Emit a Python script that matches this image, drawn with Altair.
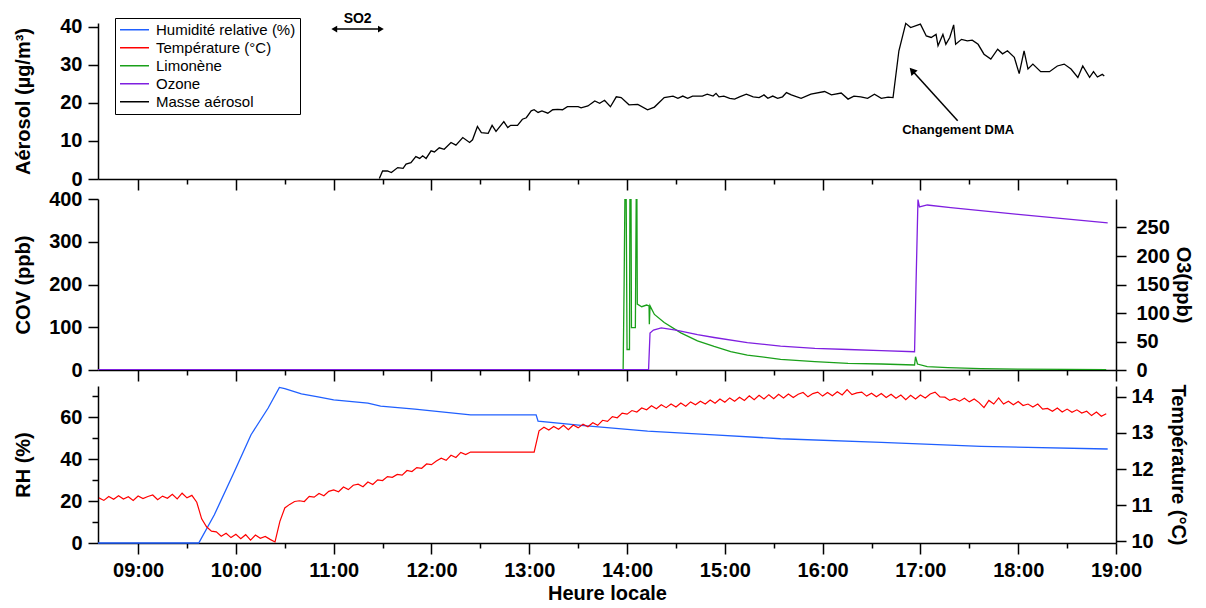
import altair as alt
import pandas as pd

FONT = "Liberation Sans"

# ---------------- data ----------------
series_names = ["Humidité relative (%)", "Température (°C)", "Limonène", "Ozone", "Masse aérosol"]
series_colors = ["#2060FF", "#FF0000", "#1AA01A", "#7F1FE0", "#000000"]

hour_ticks = [9, 9.5, 10, 10.5, 11, 11.5, 12, 12.5, 13, 13.5, 14, 14.5, 15, 15.5,
              16, 16.5, 17, 17.5, 18, 18.5, 19]
x_domain = [8.59, 19.0]

aer_time = [11.467, 11.50, 11.55, 11.59, 11.655, 11.71, 11.74, 11.79, 11.84, 11.88, 11.91, 11.945,
            11.996, 12.03, 12.08, 12.13, 12.20, 12.25, 12.32, 12.39, 12.42, 12.47, 12.51, 12.58,
            12.62, 12.66, 12.74, 12.78, 12.81, 12.88, 12.93, 12.97, 13.02, 13.05, 13.09, 13.13,
            13.19, 13.24, 13.29, 13.34, 13.39, 13.50, 13.53, 13.60, 13.67, 13.72, 13.77, 13.83,
            13.89, 13.94, 14.02, 14.11, 14.21, 14.28, 14.38, 14.47, 14.52, 14.57, 14.62, 14.67,
            14.77, 14.82, 14.88, 14.91, 14.94, 14.99, 15.05, 15.10, 15.15, 15.22, 15.29, 15.35,
            15.40, 15.44, 15.49, 15.54, 15.59, 15.63, 15.68, 15.78, 15.88, 16.02, 16.09, 16.19,
            16.26, 16.32, 16.39, 16.46, 16.53, 16.60, 16.67, 16.72, 16.78, 16.85, 16.90, 17.00,
            17.06, 17.11, 17.16, 17.18, 17.23, 17.26, 17.30, 17.34, 17.36, 17.42, 17.48, 17.53,
            17.59, 17.65, 17.72, 17.79, 17.84, 17.89, 17.96, 18.01, 18.06, 18.10, 18.15, 18.23,
            18.32, 18.40, 18.47, 18.54, 18.61, 18.66, 18.73, 18.77, 18.81, 18.86, 18.88]
aer_value = [0.1, 2.1, 2.1, 1.7, 3.0, 2.8, 3.9, 4.3, 5.9, 5.4, 6.1, 5.4,
             7.4, 7.1, 8.2, 7.8, 9.6, 8.9, 10.9, 9.6, 10.3, 13.8, 12.2, 12.0,
             14.1, 12.5, 15.1, 13.5, 14.1, 14.1, 15.7, 16.1, 17.9, 18.2, 17.5, 17.9,
             17.3, 18.2, 18.3, 18.2, 19.0, 19.0, 18.7, 19.2, 20.5, 19.9, 20.7, 19.0,
             21.6, 21.4, 19.5, 19.6, 18.2, 18.9, 21.4, 21.8, 21.2, 21.8, 21.2, 21.8,
             21.8, 22.3, 21.8, 22.5, 21.6, 21.8, 21.2, 21.0, 21.6, 22.3, 21.6, 21.4,
             22.1, 21.2, 21.8, 21.2, 21.6, 22.7, 22.1, 21.2, 22.3, 23.0, 22.1, 22.6,
             21.0, 21.8, 21.6, 21.2, 22.3, 21.2, 21.5, 21.4, 33.7, 40.9, 39.8, 40.7,
             37.6, 37.2, 38.0, 35.0, 38.0, 35.4, 37.2, 40.5, 35.4, 36.7, 36.3, 36.5,
             35.4, 32.8, 31.5, 34.1, 32.9, 33.7, 32.0, 27.7, 33.7, 28.9, 30.2, 28.2,
             28.2, 29.7, 30.2, 28.9, 26.7, 29.7, 26.7, 28.2, 26.8, 27.5, 27.1]

lim_time = [8.59, 13.96, 13.97, 13.98, 13.99, 14.00, 14.025, 14.03, 14.04, 14.045, 14.085, 14.095,
            14.10, 14.105, 14.15, 14.20, 14.225, 14.228, 14.235, 14.28, 14.38, 14.55, 14.72, 14.89,
            15.06, 15.23, 15.57, 15.92, 16.26, 16.60, 16.94, 16.95, 16.97, 17.07, 17.28, 17.62,
            18.0, 18.5, 18.9]
lim_value = [0.5, 0.5, 200, 450, 450, 48, 48, 450, 450, 99, 99, 450,
             450, 154, 148, 152, 150, 107, 150, 130, 111, 87, 68, 55,
             43, 35, 25, 19.5, 15.6, 14, 11.7, 31, 14, 7.8, 5.5, 3,
             2, 1.5, 1]

oz_time = [8.59, 14.22, 14.235, 14.27, 14.35, 14.50, 14.72, 14.89, 15.23, 15.57, 15.92, 16.26,
           16.60, 16.94, 16.955, 16.975, 16.99, 17.07, 17.31, 18.0, 18.915]
oz_value = [0.5, 0.5, 65, 70, 74, 70, 62, 57, 48, 42, 38, 36,
            34, 32, 150, 299, 286, 289.5, 285, 273, 258]

rh_time = [8.59, 9.62, 9.78, 9.985, 10.155, 10.33, 10.445, 10.50, 10.67, 10.84, 11.0, 11.35,
           11.48, 11.83, 12.40, 13.07, 13.09, 13.53, 14.21, 14.89, 15.57, 16.60, 17.62, 18.915]
rh_value = [0, 0, 13.5, 34.2, 51.7, 64.5, 74.3, 73.7, 71.2, 69.8, 68.4, 66.8,
            65.4, 64.0, 61.2, 61.2, 58.2, 56.2, 53.4, 51.7, 49.8, 48.1, 46.2, 44.9]

# temperature, one reading every 3 minutes from 08:36 to 18:54
temp_start = 8.60
temp_step = 0.05
temp_value = [
    # 08:36 - 09:33
    11.20, 11.13, 11.24, 11.16, 11.26, 11.17, 11.23, 11.13, 11.25, 11.18,
    11.24, 11.28, 11.15, 11.25, 11.19, 11.30, 11.17, 11.33, 11.20, 11.27,
    # 09:36 - 10:24
    11.08, 10.62, 10.40, 10.28, 10.26, 10.14, 10.22, 10.10, 10.19, 10.07,
    10.18, 10.03, 10.17, 10.08, 10.13, 10.05, 9.98,
    # 10:27 - 12:24
    10.55, 10.92, 11.02, 11.10, 11.12, 11.10, 11.24, 11.22, 11.32, 11.26,
    11.38, 11.42, 11.37, 11.50, 11.43, 11.55, 11.58, 11.51, 11.64, 11.57,
    11.70, 11.68, 11.79, 11.77, 11.85, 11.83, 11.96, 11.93, 12.04, 12.02,
    12.14, 12.12, 12.22, 12.30, 12.24, 12.38, 12.32, 12.46, 12.40, 12.47,
    # 12:27 - 13:03
    12.47, 12.47, 12.47, 12.47, 12.47, 12.47, 12.47, 12.47, 12.47, 12.47, 12.47, 12.47, 12.47,
    # 13:06 - 13:57
    13.06, 13.16, 13.08, 13.18, 13.10, 13.21, 13.09, 13.22, 13.14, 13.24,
    13.17, 13.28, 13.21, 13.35, 13.32, 13.45, 13.42, 13.55,
    # 14:00 - 14:57
    13.52, 13.62, 13.58, 13.69, 13.64, 13.75, 13.67, 13.78, 13.70, 13.80,
    13.72, 13.83, 13.74, 13.86, 13.78, 13.88, 13.80, 13.91, 13.82, 13.94,
    # 15:00 - 15:57
    13.85, 13.97, 13.88, 13.99, 13.90, 14.03, 13.92, 14.04, 13.94, 14.06,
    13.95, 14.07, 13.97, 14.08, 13.98, 14.07, 14.12, 14.00, 14.09, 14.13,
    # 16:00 - 16:57
    14.02, 14.12, 14.03, 14.14, 14.05, 14.20, 14.06, 14.11, 14.13, 14.02,
    14.10, 14.00, 14.09, 13.98, 14.07, 13.96, 14.05, 13.92, 14.04, 13.94,
    # 17:00 - 17:57
    14.05, 13.97, 14.08, 14.13, 14.00, 13.99, 13.90, 13.95, 13.88, 13.96,
    13.86, 13.94, 13.84, 13.70, 13.90, 13.80, 13.97, 13.80, 13.88, 13.78,
    # 18:00 - 18:54
    13.87, 13.76, 13.80, 13.72, 13.80, 13.66, 13.68, 13.60, 13.69, 13.58,
    13.66, 13.57, 13.64, 13.55, 13.60, 13.48, 13.58, 13.46, 13.53,
]
assert len(temp_value) == 207, len(temp_value)
temp_time = [round(temp_start + temp_step * i, 3) for i in range(len(temp_value))]

# annotations
so2_time = [11.006, 11.483]
so2_level = [39.4, 39.4]
so2_label_time = 11.245
so2_label_level = 42.1
dma_time = [17.381, 16.915]
dma_level = [15.3, 28.5]
dma_label_time = 17.386
dma_label_level = 12.8

# ---------------- frames ----------------
df_aer = pd.DataFrame({"t": aer_time, "v": aer_value, "series": "Masse aérosol"})
df_lim = pd.DataFrame({"t": lim_time, "v": lim_value})
df_oz = pd.DataFrame({"t": oz_time, "v": oz_value})
df_rh = pd.DataFrame({"t": rh_time, "v": rh_value})
df_temp = pd.DataFrame({"t": temp_time, "v": temp_value})
df_so2 = pd.DataFrame({"t": so2_time, "v": so2_level})
df_so2_heads = pd.DataFrame({"t": so2_time, "v": so2_level, "shape": ["triangle-left", "triangle-right"]})
df_so2_lab = pd.DataFrame({"t": [so2_label_time], "v": [so2_label_level]})
df_dma = pd.DataFrame({"t": dma_time, "v": dma_level})
df_dma_head = pd.DataFrame({"t": [dma_time[1]], "v": [dma_level[1]]})
df_dma_lab = pd.DataFrame({"t": [dma_label_time], "v": [dma_label_level]})

W = 1018
TICK_MAJOR = {"condition": {"test": "datum.value % 1 === 0", "value": 11}, "value": 5}


def xdef(labels=False, title=None):
    kw = dict(values=hour_ticks, tickSize=TICK_MAJOR, grid=False, labelFlush=False,
              labelOverlap=False, labels=labels, labelPadding=6)
    if labels:
        kw["labelExpr"] = ("datum.value % 1 === 0 ? ((datum.value < 10 ? '0' : '') + "
                           "datum.value + ':00') : ''")
    if title:
        kw["title"] = title
        kw["titlePadding"] = 3
    else:
        kw["title"] = None
    return alt.X("t:Q", scale=alt.Scale(domain=x_domain, nice=False, zero=False),
                 axis=alt.Axis(**kw))


def ydef(domain, values, title, orient="left", titleX=-75, tick=None, labelExpr=None,
         labelPadding=6, zero=True):
    kw = dict(values=values, title=title, orient=orient, grid=False, titleX=titleX,
              titleBaseline="middle", labelPadding=labelPadding, labelOverlap=False,
              tickSize=tick if tick is not None else 10)
    kw["titleAngle"] = -90 if orient == "left" else 90
    if labelExpr:
        kw["labelExpr"] = labelExpr
    return alt.Y("v:Q", scale=alt.Scale(domain=domain, nice=False, zero=zero),
                 axis=alt.Axis(**kw))


# ---------------- top panel ----------------
y_aer = ydef([0, 41], [0, 10, 20, 30, 40], "Aérosol (µg/m³)")

aer_line = alt.Chart(df_aer).mark_line(strokeWidth=1.3).encode(
    x=xdef(), y=y_aer,
    color=alt.Color("series:N",
                    scale=alt.Scale(domain=series_names, range=series_colors),
                    legend=alt.Legend(orient="none", legendX=17, legendY=-5, title=None,
                                      strokeColor="black", fillColor="white", padding=4,
                                      symbolType="stroke", symbolSize=841,
                                      symbolStrokeWidth=1.5, labelFont=FONT,
                                      labelFontSize=15, labelFontWeight="normal",
                                      labelColor="black", labelOffset=6,
                                      clipHeight=15.5, rowPadding=2)),
)
so2_line = alt.Chart(df_so2).mark_line(color="black", strokeWidth=1.5).encode(x=xdef(), y=y_aer)
so2_heads = alt.Chart(df_so2_heads).mark_point(filled=True, color="black", opacity=1, size=45).encode(
    x=xdef(), y=y_aer, shape=alt.Shape("shape:N", scale=None))
so2_text = alt.Chart(df_so2_lab).mark_text(text="SO2", font=FONT, fontSize=14, fontWeight="bold",
                                          baseline="middle", align="center", color="black").encode(
    x=xdef(), y=y_aer)
dma_line = alt.Chart(df_dma).mark_line(color="black", strokeWidth=1.5).encode(x=xdef(), y=y_aer)
dma_head = alt.Chart(df_dma_head).mark_point(filled=True, color="black", opacity=1, size=70,
                                             shape="triangle-up", angle=318).encode(x=xdef(), y=y_aer)
dma_text = alt.Chart(df_dma_lab).mark_text(text="Changement DMA", font=FONT, fontSize=13,
                                          fontWeight="bold", baseline="middle", align="center",
                                          color="black").encode(x=xdef(), y=y_aer)

top = alt.layer(aer_line, so2_line, so2_heads, so2_text, dma_line, dma_head, dma_text).properties(
    width=W, height=156)

# ---------------- middle panel ----------------
lim_line = alt.Chart(df_lim).mark_line(color=series_colors[2], strokeWidth=1.3, clip=True).encode(
    x=xdef(), y=ydef([0, 400], [0, 100, 200, 300, 400], "COV (ppb)"))
oz_line = alt.Chart(df_oz).mark_line(color=series_colors[3], strokeWidth=1.3, clip=True).encode(
    x=xdef(), y=ydef([0, 300], [0, 50, 100, 150, 200, 250], "O3(ppb)", orient="right",
                     titleX=66, labelPadding=10))
mid = alt.layer(lim_line, oz_line).resolve_scale(y="independent").properties(width=W, height=171)

# ---------------- bottom panel ----------------
rh_line = alt.Chart(df_rh).mark_line(color=series_colors[0], strokeWidth=1.3).encode(
    x=xdef(labels=True, title="Heure locale"),
    y=ydef([0, 75], [0, 10, 20, 30, 40, 50, 60, 70], "RH (%)",
           tick={"condition": {"test": "datum.value % 20 === 0", "value": 10}, "value": 6},
           labelExpr="datum.value % 20 === 0 ? datum.label : ''"))
temp_line = alt.Chart(df_temp).mark_line(color=series_colors[1], strokeWidth=1.2).encode(
    x=xdef(labels=True, title="Heure locale"),
    y=ydef([9.95, 14.3], [10, 11, 12, 13, 14], "Température (°C)", orient="right",
           titleX=61, labelPadding=5, zero=False))
bot = alt.layer(rh_line, temp_line).resolve_scale(y="independent").properties(width=W, height=157)

inner = alt.vconcat(mid, bot, spacing=16, bounds="flush")
chart = alt.vconcat(top, inner, spacing=20, bounds="flush").resolve_scale(
    color="independent").resolve_legend(color="independent").properties(
    padding={"left": 4, "top": 3, "right": 4, "bottom": 0}
).configure_view(stroke=None).configure_axis(
    labelFont=FONT, labelFontSize=20, labelFontWeight="bold", labelColor="black",
    titleFont=FONT, titleFontSize=20, titleFontWeight="bold", titleColor="black",
    domainColor="black", tickColor="black", domainWidth=1.5, tickWidth=1.5,
)

chart.save("out.html", embed_options={"renderer": "svg", "actions": False})
